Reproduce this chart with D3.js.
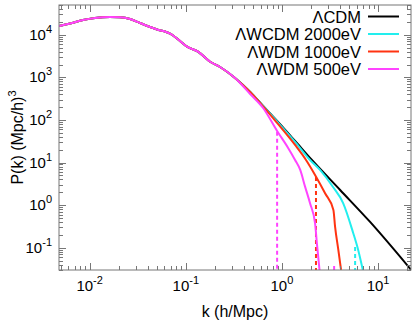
<!DOCTYPE html>
<html><head><meta charset="utf-8">
<script src="https://cdn.jsdelivr.net/npm/d3@7"></script>
<style>
html,body{margin:0;padding:0;background:#fff;}
svg{display:block;font-family:"Liberation Sans",Arial,Helvetica,sans-serif;}
</style></head>
<body>
<svg id="c" width="417" height="321"></svg>
<script>
// ---- data ----
const kCommon = [0.0048,0.00624,0.00853,0.01137,0.0163,0.0207,0.0263,0.0334,0.0425,0.0502,0.0608,0.0686,0.0871,0.103,0.134,0.179,0.227,0.325];
const pCommon = [16070,18400,22200,24800,26100,25700,23400,18900,15200,13300,11900,10700,7140,5250,4010,2330,1750,966];

const kCDM = [0.467,0.637,0.891,1.37,2.05,4.03,8.26,22.1];
const pCDM = [454,213,94.6,32.1,11.5,2.27,0.403,0.030];

const kW2000 = [0.467,0.637,0.891,1.37,1.96,2.49,3.40,4.33,5.51,6.21,6.94];
const pW2000 = [454,213,92,30.6,11.5,6.70,2.67,1.12,0.222,0.0887,0.0301];

const kW1000 = [0.467,0.637,0.891,1.37,1.78,2.21,2.81,3.43,3.57,3.86,4.12];
const pW1000 = [452,208,84.9,25.9,11.5,5.12,1.90,0.771,0.313,0.0887,0.0301];

const kW500 = [0.467,0.637,0.891,1.16,1.37,1.55,1.74,1.96,2.21,2.31,2.46];
const pW500 = [407,191,55.1,22.0,11.5,6.70,2.72,1.11,0.376,0.127,0.030];

const seriesNames = ["\u039BCDM","\u039BWCDM 2000eV","\u039BWDM 1000eV","\u039BWDM 500eV"];
const seriesColors = ["#000000","#22eeee","#ff3311","#ff44ff"];

// dashed vertical markers (k, top P)
const dropK = [0.891, 2.26, 5.77, 3.49];
const dropTop = [52.9, 4.58, 0.104, 0.0373];
const dropColors = ["#ff44ff","#ff3311","#22eeee","#ff44ff"];

const xDomain = [0.0048, 22];
const yDomain = [0.03, 50000];
const xMajor = [-2,-1,0,1];
const yMajor = [-1,0,1,2,3,4];

// ---- chart ----
const svg = d3.select("#c");
const L=59, R=411, T=5, B=270;
const x = d3.scaleLog().domain(xDomain).range([L,R]);
const y = d3.scaleLog().domain(yDomain).range([B,T]);

svg.append("defs").append("clipPath").attr("id","clip")
  .append("rect").attr("x",L).attr("y",T).attr("width",R-L).attr("height",B-T);

const tailK = [kCDM,kW2000,kW1000,kW500];
const tailP = [pCDM,pW2000,pW1000,pW500];
const line = d3.line().x(d=>x(d[0])).y(d=>y(d[1])).curve(d3.curveMonotoneX);
const g = svg.append("g").attr("clip-path","url(#clip)");

// dashed drops
dropK.forEach((k,i)=>{
  g.append("line").attr("x1",x(k)).attr("x2",x(k)).attr("y1",y(dropTop[i])).attr("y2",y(yDomain[0]))
   .attr("stroke",dropColors[i]).attr("stroke-width",2).attr("stroke-dasharray","4,3");
});

// curves, magenta drawn last (on top)
[0,1,2,3].forEach(i=>{
  const pts = [];
  kCommon.forEach((k,j)=>{ if(k<tailK[i][0]) pts.push([k,pCommon[j]]); });
  tailK[i].forEach((k,j)=>pts.push([k,tailP[i][j]]));
  g.append("path").datum(pts).attr("d",line).attr("fill","none")
   .attr("stroke",seriesColors[i]).attr("stroke-width",2).attr("stroke-linejoin","round");
});

// axes frame
const axisColor="#777";
svg.append("rect").attr("x",L).attr("y",T).attr("width",R-L).attr("height",B-T)
  .attr("fill","none").attr("stroke",axisColor).attr("stroke-width",1);

function minorVals(dom){
  const out=[];
  const lo=Math.floor(Math.log10(dom[0])), hi=Math.ceil(Math.log10(dom[1]));
  for(let e=lo;e<=hi;e++) for(let m=1;m<=9;m++){
    const v=m*Math.pow(10,e);
    if(v>=dom[0]&&v<=dom[1]) out.push({v, major:m===1});
  }
  return out;
}
const tk = svg.append("g").attr("stroke",axisColor).attr("stroke-width",1);
minorVals(xDomain).forEach(t=>{
  const len=t.major?7:4, xx=Math.round(x(t.v))+0.5;
  tk.append("line").attr("x1",xx).attr("x2",xx).attr("y1",B).attr("y2",B-len);
  tk.append("line").attr("x1",xx).attr("x2",xx).attr("y1",T).attr("y2",T+len);
});
minorVals(yDomain).forEach(t=>{
  const len=t.major?7:4, yy=Math.round(y(t.v))+0.5;
  tk.append("line").attr("x1",L).attr("x2",L+len).attr("y1",yy).attr("y2",yy);
  tk.append("line").attr("x1",R).attr("x2",R-len).attr("y1",yy).attr("y2",yy);
});

// tick labels
xMajor.forEach(e=>{
  const t = svg.append("text").attr("x",x(Math.pow(10,e))).attr("y",291)
    .attr("text-anchor","middle").attr("font-size",15).attr("fill","#000");
  t.append("tspan").text("10");
  t.append("tspan").attr("dy",-7).attr("font-size",11).text(e<0?"-"+(-e):String(e));
});
yMajor.forEach(e=>{
  const t = svg.append("text").attr("x",52).attr("y",y(Math.pow(10,e))+5)
    .attr("text-anchor","end").attr("font-size",15).attr("fill","#000");
  t.append("tspan").text("10");
  t.append("tspan").attr("dy",-7).attr("font-size",11).text(e<0?"-"+(-e):String(e));
});

// axis titles
svg.append("text").attr("x",(L+R)/2).attr("y",317).attr("text-anchor","middle")
  .attr("font-size",16).text("k (h/Mpc)");
const yt = svg.append("text").attr("transform",`translate(23,${(T+B)/2}) rotate(-90)`)
  .attr("text-anchor","middle").attr("font-size",16);
yt.append("tspan").text("P(k) (Mpc/h)");
yt.append("tspan").attr("dy",-7).attr("font-size",11).text("3");

// legend
seriesNames.forEach((n,i)=>{
  const yy = 16.5 + i*17.5;
  svg.append("text").attr("x",361).attr("y",yy+6).attr("text-anchor","end")
    .attr("font-size",16.5).text(n);
  svg.append("line").attr("x1",368).attr("x2",399).attr("y1",yy).attr("y2",yy)
    .attr("stroke",seriesColors[i]).attr("stroke-width",2);
});
</script>
</body></html>
